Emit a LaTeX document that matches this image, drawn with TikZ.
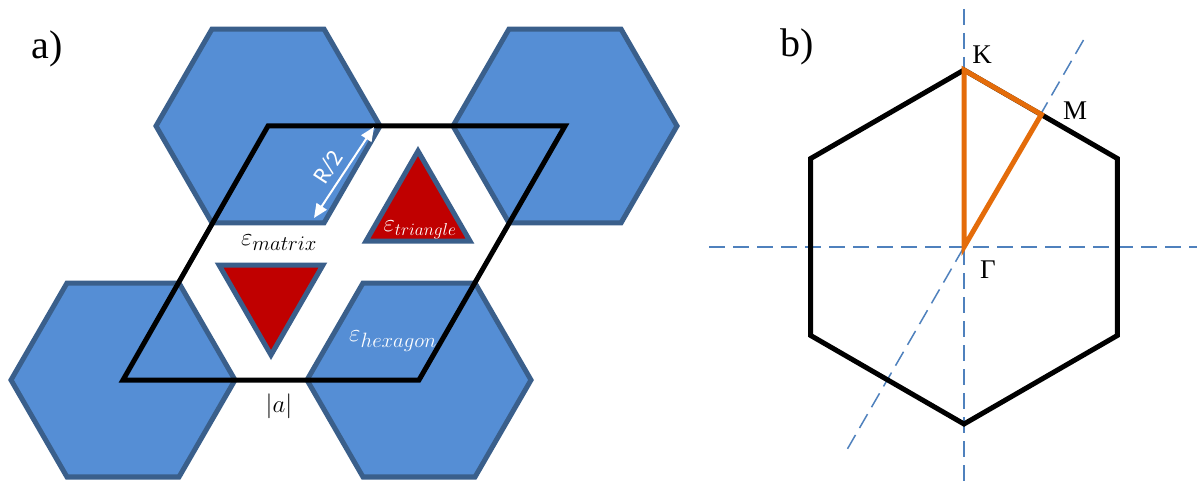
\documentclass[tikz,border=0pt]{standalone}
\usepackage{fontspec}
\setmainfont{Liberation Serif}
\newfontfamily\carl{Carlito}
\usetikzlibrary{shapes.geometric,arrows.meta,calc}
\definecolor{hexfill}{HTML}{558ED5}
\definecolor{hexline}{HTML}{3A5F8B}
\definecolor{trifill}{HTML}{C00000}
\definecolor{axisblue}{HTML}{4F81BD}
\definecolor{korange}{HTML}{E46C0A}
\begin{document}
\begin{tikzpicture}[x=1pt,y=-1pt,
  hexa/.style={regular polygon, regular polygon sides=6, minimum size=224pt, inner sep=0pt,
    fill=hexfill, draw=hexline, line width=5pt},
  tri/.style={regular polygon, regular polygon sides=3, minimum size=120pt, inner sep=0pt,
    fill=trifill, draw=hexline, line width=5pt},
  cell/.style={draw=black, line width=5pt},
  axisline/.style={draw=axisblue, line width=1.5pt, dash pattern=on 16pt off 8pt},
  zone/.style={draw=korange, line width=5pt},
  mathlab/.style={inner sep=0pt, font=\fontsize{29}{33}\selectfont},
  panellab/.style={inner sep=0pt, font=\fontsize{40}{44}\selectfont},
  ptlab/.style={inner sep=0pt, font=\fontsize{27}{31}\selectfont},
  dimarrow/.style={draw=white, line width=2pt, {Triangle[length=14pt,width=12pt]}-{Triangle[length=14pt,width=12pt]}}
]
\useasboundingbox (0,0) rectangle (1198,489);
\fill[white] (0,0) rectangle (1198,489);

% ---------- panel a ----------
\node[hexa] (hTL) at (268,126) {};
\node[hexa] (hTR) at (565,126) {};
\node[hexa] (hBL) at (123,380) {};
\node[hexa] (hBR) at (419,380) {};

\node[tri] (tUp) at (418,211) {};
\node[tri, shape border rotate=180] (tDown) at (271,295) {};

\draw[cell] (hBL.center) -- (hBR.center) -- (hTR.center) -- (hTL.center) -- cycle;

\coordinate (r1) at (374,127);
\coordinate (r2) at (314,218);
\draw[dimarrow] (r2) -- (r1);
\node[inner sep=0pt, text=white, rotate=57, font=\carl\fontsize{24}{28}\selectfont] (rlab) at (328,167) {R/2};

\node[mathlab] (emat) at (279,243) {$\varepsilon_{matrix}$};
\node[mathlab, text=white, font=\fontsize{27}{31}\selectfont] (etri) at (420,230) {$\varepsilon_{triangle}$};
\node[mathlab, text=white] (ehex) at (393,341) {$\varepsilon_{hexagon}$};
\node[mathlab, font=\fontsize{31}{35}\selectfont] (alab) at (279,406) {$|a|$};

\node[panellab] (pa) at (47,49) {a)};

% ---------- panel b ----------
\coordinate (G) at (964,247);
\coordinate (vt) at (964,9);
\coordinate (vb) at (964,487);
\coordinate (hl) at (709,247);
\coordinate (hr) at (1197,247);
\coordinate (dt) at ($(G)+(-60:245)$);
\coordinate (db) at ($(G)+(120:233)$);
\draw[axisline] (vt) -- (vb);
\draw[axisline] (hl) -- (hr);
\draw[axisline] (db) -- (dt);

\node[regular polygon, regular polygon sides=6, shape border rotate=30, minimum size=354pt,
  inner sep=0pt, draw=black, line width=5pt] (hexb) at (G) {};

\coordinate (K) at (964,70);
\coordinate (M) at (1041.3,114.5);
\draw[zone] (K) -- (M) -- (G) -- cycle;

\node[ptlab] (Klab) at (982,55) {K};
\node[ptlab] (Mlab) at (1075,111) {M};
\node[ptlab] (Glab) at (988,270) {Γ};

\node[panellab] (pb) at (797,47) {b)};
\end{tikzpicture}
\end{document}
